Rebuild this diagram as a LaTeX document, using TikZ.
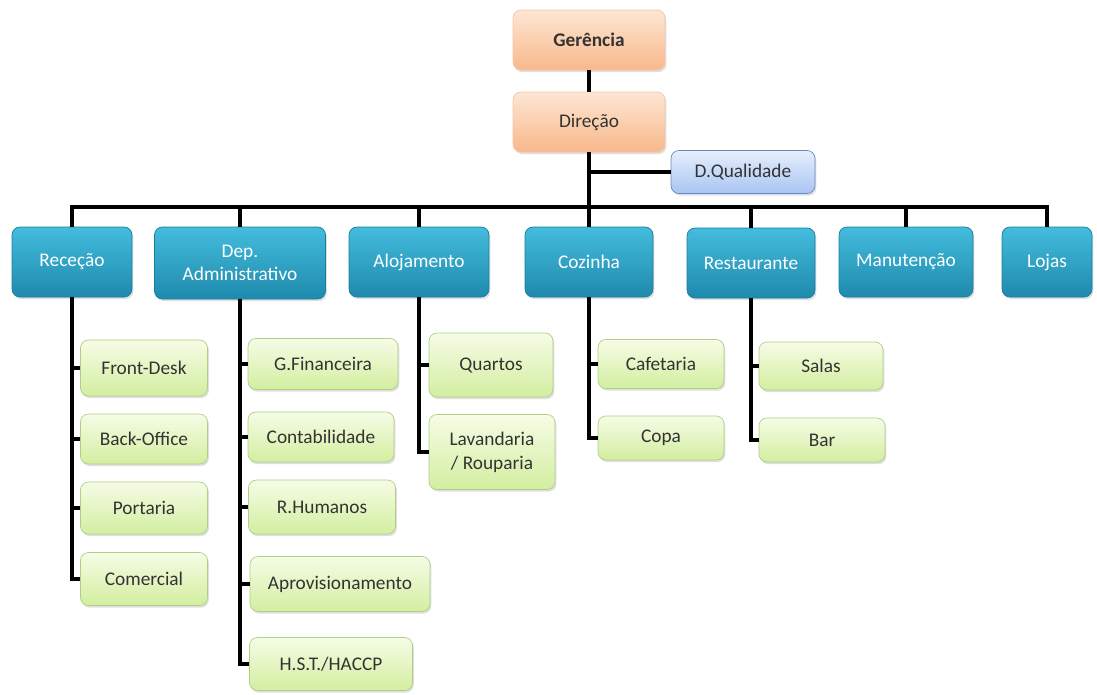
\documentclass[tikz,border=0pt]{standalone}
\usepackage{fontspec}
\setmainfont{Carlito}
\usetikzlibrary{shadows}

\definecolor{peachtop}{HTML}{FEE6D4}
\definecolor{peachbot}{HTML}{F8B88A}
\definecolor{peachline}{HTML}{F3C7A6}
\definecolor{tealtop}{HTML}{44BCDD}
\definecolor{tealbot}{HTML}{1E8AAD}
\definecolor{tealline}{HTML}{1B7C9C}
\definecolor{greentop}{HTML}{F6FCE6}
\definecolor{greenbot}{HTML}{D3EEA0}
\definecolor{greenline}{HTML}{AECF85}
\definecolor{bluetop}{HTML}{E6EEFC}
\definecolor{bluebot}{HTML}{A9C5F2}
\definecolor{blueline}{HTML}{6588C6}
\definecolor{txt}{HTML}{333333}

\tikzset{
  box/.style={rounded corners=4.5pt, align=center, inner sep=2pt,
    font=\fontsize{11}{13.5}\selectfont,
    drop shadow={opacity=0.25, shadow xshift=0.8pt, shadow yshift=-1.2pt}},
  headbox/.style={box, draw=peachline, top color=peachtop, bottom color=peachbot, text=txt},
  qualbox/.style={box, draw=blueline, top color=bluetop, bottom color=bluebot, text=txt},
  deptbox/.style={box, draw=tealline, top color=tealtop, bottom color=tealbot, text=white,
    minimum height=1.4cm},
  subbox/.style={box, draw=greenline, top color=greentop, bottom color=greenbot, text=txt},
  link/.style={line width=2pt, black}
}

\begin{document}
\begin{tikzpicture}[x=0.02cm, y=-0.02cm]
    \useasboundingbox (0,0) rectangle (1097,694);

    % direcao
    \node[headbox, minimum width=3.04cm, minimum height=1.2cm, font=\fontsize{11}{13.5}\selectfont\bfseries] (ger) at (589,40) {Gerência};
    \node[headbox, minimum width=3.04cm, minimum height=1.2cm] (dir) at (589,122) {Direção};
    \node[qualbox, minimum width=2.88cm, minimum height=0.86cm] (qual) at (743,172) {D.Qualidade};
    \coordinate (bus) at (589,207);

    % departamentos
    \node[deptbox, minimum width=2.4cm] (rec) at (72,262) {Receção};
    \node[deptbox, minimum width=3.42cm, minimum height=1.44cm] (dep) at (240,263) {Dep.\\Administrativo};
    \node[deptbox, minimum width=2.8cm] (aloj) at (419,262) {Alojamento};
    \node[deptbox, minimum width=2.56cm] (coz) at (589,262) {Cozinha};
    \node[deptbox, minimum width=2.56cm] (rest) at (751,263) {Restaurante};
    \node[deptbox, minimum width=2.68cm] (man) at (906,262) {Manutenção};
    \node[deptbox, minimum width=1.8cm] (loj) at (1047,262) {Lojas};

    % rececao
    \node[subbox, minimum width=2.54cm, minimum height=1.12cm] (fdesk) at (144,368) {Front-Desk};
    \node[subbox, minimum width=2.54cm, minimum height=1.0cm] (boffice) at (144,439) {Back-Office};
    \node[subbox, minimum width=2.54cm, minimum height=1.04cm] (port) at (144,508) {Portaria};
    \node[subbox, minimum width=2.54cm, minimum height=1.06cm] (com) at (144,579) {Comercial};

    % administrativo
    \node[subbox, minimum width=3.0cm, minimum height=1.02cm] (gfin) at (323,364) {G.Financeira};
    \node[subbox, minimum width=2.92cm, minimum height=1.0cm] (cont) at (321,437) {Contabilidade};
    \node[subbox, minimum width=2.94cm, minimum height=1.08cm] (rhum) at (322,507) {R.Humanos};
    \node[subbox, minimum width=3.6cm, minimum height=1.1cm] (aprov) at (340,584) {Aprovisionamento};
    \node[subbox, minimum width=3.26cm, minimum height=1.06cm] (hst) at (331,664) {H.S.T./HACCP};

    % alojamento
    \node[subbox, minimum width=2.48cm, minimum height=1.28cm] (quart) at (491,365) {Quartos};
    \node[subbox, minimum width=2.52cm, minimum height=1.5cm] (lav) at (492,452) {Lavandaria\\/ Rouparia};

    % cozinha
    \node[subbox, minimum width=2.52cm, minimum height=0.98cm] (cafe) at (661,364) {Cafetaria};
    \node[subbox, minimum width=2.52cm, minimum height=0.88cm] (copa) at (661,438) {Copa};

    % restaurante
    \node[subbox, minimum width=2.48cm, minimum height=0.96cm] (salas) at (821,366) {Salas};
    \node[subbox, minimum width=2.52cm, minimum height=0.88cm] (bar) at (822,440) {Bar};

    % ligacoes
    \draw[link] (ger) -- (dir);
    \draw[link] (dir.south) -- (bus);
    \draw[link] (dir.south) |- (qual.west);
    \foreach \d in {rec,dep,aloj,coz,rest,man,loj}
        \draw[link] (bus) -| (\d.north);
    \foreach \s in {fdesk,boffice,port,com}
        \draw[link] (rec.south) |- (\s.west);
    \foreach \s in {gfin,cont,rhum,aprov,hst}
        \draw[link] (dep.south) |- (\s.west);
    \foreach \s in {quart,lav}
        \draw[link] (aloj.south) |- (\s.west);
    \foreach \s in {cafe,copa}
        \draw[link] (coz.south) |- (\s.west);
    \foreach \s in {salas,bar}
        \draw[link] (rest.south) |- (\s.west);
\end{tikzpicture}
\end{document}
